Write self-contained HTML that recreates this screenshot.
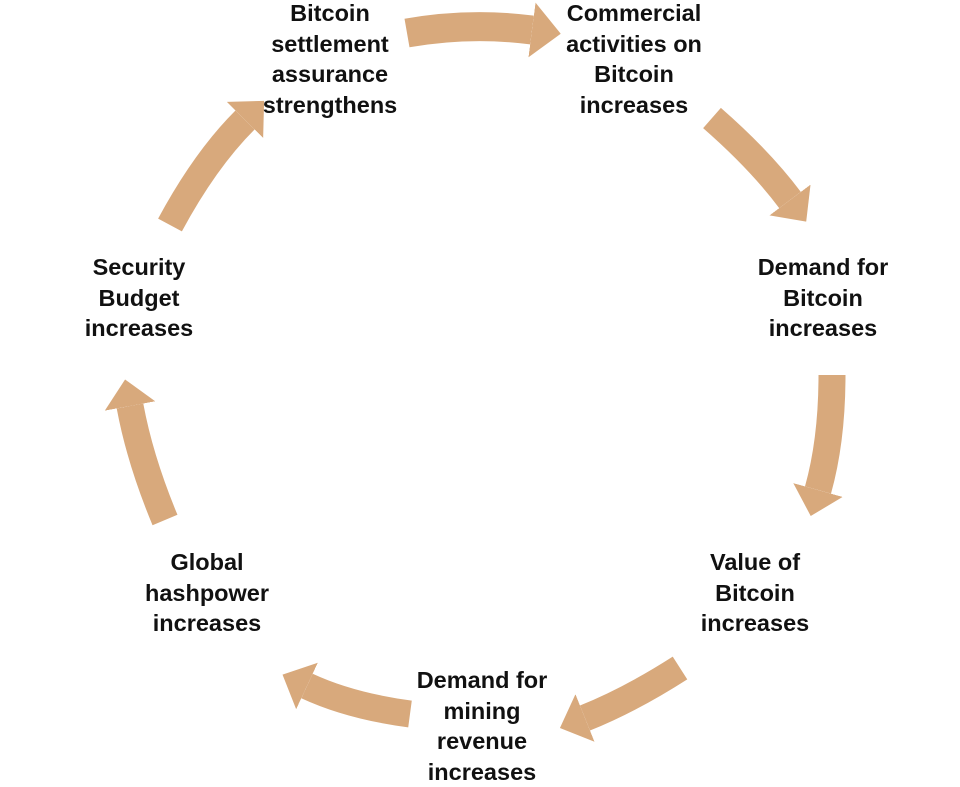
<!DOCTYPE html>
<html><head><meta charset="utf-8"><style>
html,body{margin:0;padding:0;background:#fff;}
body{width:960px;height:781px;overflow:hidden;position:relative;}
.t{position:absolute;font-family:"Liberation Sans",sans-serif;font-weight:bold;font-size:23.5px;line-height:30.5px;text-align:center;color:#111;width:220px;}
svg{position:absolute;left:0;top:0;}
</style></head><body>
<svg width="960" height="781" viewBox="0 0 960 781">
<defs>
<marker id="h" viewBox="0 0 10 10" preserveAspectRatio="none" markerWidth="1.0" markerHeight="1.9" refX="0" refY="5" orient="auto" markerUnits="strokeWidth">
<path d="M0,0 L10,5 L0,10 z" fill="#D8A97C"/>
</marker>
</defs>
<g fill="none" stroke="#D8A97C" stroke-width="27" marker-end="url(#h)">
<path d="M407,33 Q470,22 532,30" stroke-width="29"/>
<path d="M712,118 Q760,160 790,200"/>
<path d="M832,375 Q832,440 818,490"/>
<path d="M680,668 Q630,700 585,718"/>
<path d="M410,714 Q350,706 307,686"/>
<path d="M165,520 Q140,460 130,406"/>
<path d="M170,225 Q205,160 245,120"/>
</g>
</svg>
<div class="t" style="left:220px;top:-2px;">Bitcoin<br>settlement<br>assurance<br>strengthens</div>
<div class="t" style="left:524px;top:-2px;">Commercial<br>activities on<br>Bitcoin<br>increases</div>
<div class="t" style="left:713px;top:252px;">Demand for<br>Bitcoin<br>increases</div>
<div class="t" style="left:29px;top:252px;">Security<br>Budget<br>increases</div>
<div class="t" style="left:645px;top:547px;">Value of<br>Bitcoin<br>increases</div>
<div class="t" style="left:97px;top:547px;">Global<br>hashpower<br>increases</div>
<div class="t" style="left:372px;top:665px;">Demand for<br>mining<br>revenue<br>increases</div>
</body></html>
